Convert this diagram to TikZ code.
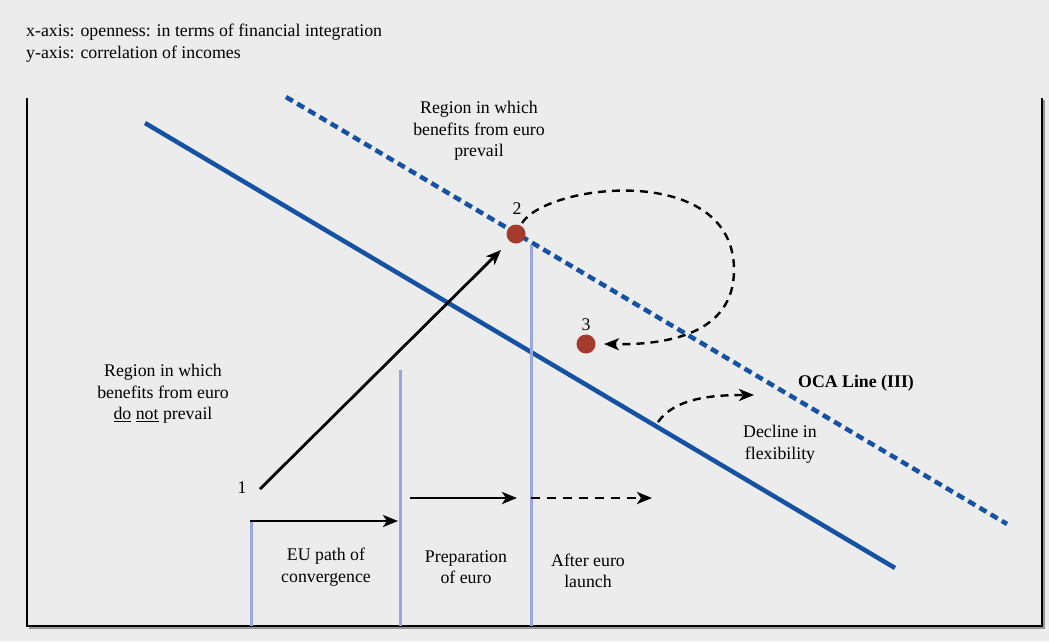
\documentclass[tikz,border=0pt]{standalone}
\usepackage{fontspec}
\setmainfont{Liberation Serif}
\usetikzlibrary{arrows.meta}
\definecolor{bg}{RGB}{236,236,236}
\definecolor{ocablue}{RGB}{22,82,164}
\definecolor{dotred}{RGB}{166,58,44}
\definecolor{lav}{RGB}{154,166,222}
\definecolor{shadowgray}{RGB}{150,150,150}
\begin{document}
\begin{tikzpicture}[x=1pt,y=-1pt,
  txt/.style={font=\fontsize{17.8}{21.5}\selectfont, align=center, inner sep=0pt},
  ltxt/.style={font=\fontsize{17.8}{22}\selectfont, align=left, inner sep=0pt, anchor=west},
  ocasolid/.style={ocablue, line width=4.5pt},
  ocadash/.style={ocablue, line width=4.5pt, dash pattern=on 8pt off 5pt},
  phase/.style={lav, line width=3pt},
  arr/.style={line width=2.8pt, -{Stealth[length=15pt,width=12pt,inset=4pt]}},
  darr/.style={arr, dash pattern=on 9pt off 7pt},
  curarr/.style={line width=2.4pt, dash pattern=on 8pt off 6pt, -{Stealth[length=15pt,width=12pt,inset=4pt]}},
  pt/.style={circle, fill=dotred, minimum size=19pt, inner sep=0pt}]
\fill[bg] (0,0) rectangle (1049,641);
\useasboundingbox (0,0) rectangle (1049,641);

% frame
\coordinate (ftl) at (27,98);
\coordinate (fbl) at (27,626);
\coordinate (fbr) at (1042,626);
\coordinate (ftr) at (1042,98);
\draw[shadowgray, line width=1.5pt] (29,628) -- (1044,628) -- (1044,100);
\draw[black, line width=1.6pt] (ftl) -- (fbl) -- (fbr) -- (ftr);

% axis legend
\node[ltxt] (xlab) at (26,32) {x-axis: openness: in terms of financial integration};
\node[ltxt] (ylab) at (26,54) {y-axis: correlation of incomes};

% OCA lines
\coordinate (sA) at (145,123);
\coordinate (sB) at (895,568);
\coordinate (dA) at (286,97);
\coordinate (dB) at (1007,524);
\draw[ocasolid] (sA) -- (sB);
\draw[ocadash] (dA) -- (dB);

% phase lines
\coordinate (v1t) at (251,520);
\coordinate (v1b) at (251,626);
\coordinate (v2t) at (400,370);
\coordinate (v2b) at (400,626);
\coordinate (v3t) at (531,245);
\coordinate (v3b) at (531,626);
\draw[phase] (v1t) -- (v1b);
\draw[phase] (v2t) -- (v2b);
\draw[phase] (v3t) -- (v3b);

% points
\node[pt] (dot2) at (516,234) {};
\node[pt] (dot3) at (586,344) {};
\node[txt] (n2) at (517,209) {2};
\node[txt] (n3) at (586,325) {3};
\node[txt] (n1) at (242,488) {1};

% arrows
\coordinate (a1s) at (260,489);
\coordinate (a1e) at (501,250);
\draw[arr] (a1s) -- (a1e);

\coordinate (h1s) at (250,521);
\coordinate (h1e) at (398,521);
\draw[arr] (h1s) -- (h1e);
\coordinate (h2s) at (410,498);
\coordinate (h2e) at (517,498);
\draw[arr] (h2s) -- (h2e);
\coordinate (h3s) at (531,498);
\coordinate (h3e) at (652,498);
\draw[darr] (h3s) -- (h3e);

% loop 2 -> 3
\coordinate (l1) at (522,223);
\coordinate (l2) at (734,270);
\coordinate (l3) at (604,344);
\draw[curarr] (l1) .. controls (548,183) and (734,162) .. (l2)
  .. controls (734,335) and (665,345) .. (l3);

% decline in flexibility
\coordinate (d1) at (658,422);
\coordinate (d2) at (754,395);
\draw[curarr] (d1) .. controls (675,398) and (712,395) .. (d2);

% region labels
\node[txt] (regup) at (479,131) {Region in which\\benefits from euro\\prevail};
\node[txt] (regdown) at (163,394) {Region in which\\benefits from euro\\\underline{do} \underline{not} prevail};
\node[txt, font=\fontsize{17.8}{21.5}\selectfont\bfseries] (oca) at (856,383) {OCA Line (III)};
\node[txt] (decl) at (780,444) {Decline in\\flexibility};

% phase labels
\node[txt] (ph1) at (326,567) {EU path of\\convergence};
\node[txt] (ph2) at (466,567) {Preparation\\of euro};
\node[txt] (ph3) at (588,571) {After euro\\launch};
\end{tikzpicture}
\end{document}
